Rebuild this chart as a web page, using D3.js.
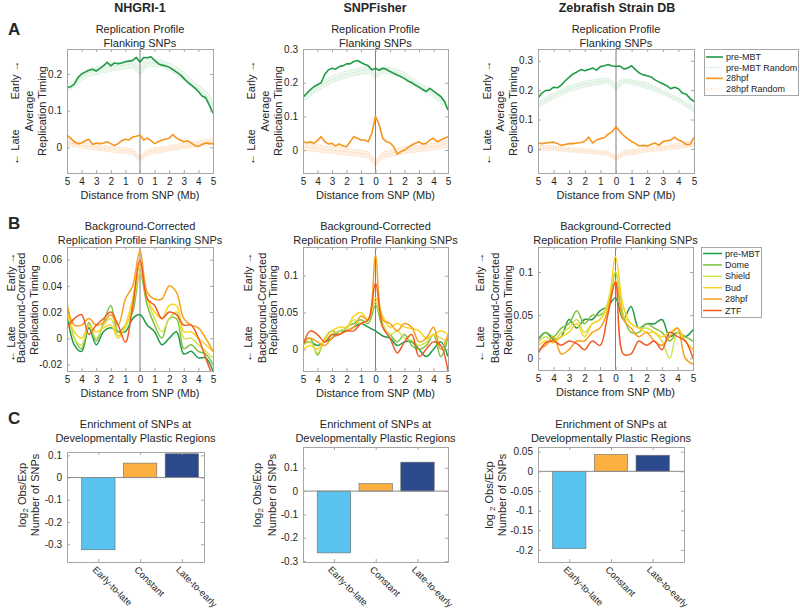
<!DOCTYPE html>
<html><head><meta charset="utf-8">
<script src="https://cdn.jsdelivr.net/npm/d3@7"></script>
<style>
body{margin:0;background:#fff;}
svg text{font-family:"Liberation Sans",Arial,sans-serif;fill:#262626;}
</style></head><body>
<svg id="c" width="800" height="611"></svg>
<script>
// ---------- DATA ----------
const columns = ["NHGRI-1","SNPFisher","Zebrafish Strain DB"];
const xTicks = [-5,-4,-3,-2,-1,0,1,2,3,4,5];
const xFine = [-5,-4.75,-4.5,-4.25,-4,-3.75,-3.5,-3.25,-3,-2.75,-2.5,-2.25,-2,-1.75,-1.5,-1.25,-1,-0.75,-0.5,-0.25,0,0.25,0.5,0.75,1,1.25,1.5,1.75,2,2.25,2.5,2.75,3,3.25,3.5,3.75,4,4.25,4.5,4.75,5];
const xCoarse = [-5,-4.5,-4,-3.5,-3,-2.5,-2,-1.5,-1,-0.5,0,0.5,1,1.5,2,2.5,3,3.5,4,4.5,5];

// Panel A: average replication timing
const a1PreMBT = [0.164,0.165,0.172,0.19,0.2,0.205,0.21,0.213,0.208,0.215,0.222,0.232,0.222,0.23,0.228,0.23,0.233,0.235,0.237,0.245,0.232,0.245,0.244,0.247,0.237,0.228,0.224,0.222,0.218,0.212,0.205,0.198,0.188,0.178,0.17,0.162,0.152,0.14,0.135,0.115,0.093];
const a1H28 = [0.033,0.025,0.015,0.01,0.012,0.018,0.022,0.008,0.012,0.01,0.012,0.015,0.01,0.005,0.01,0.018,0.022,0.02,0.028,0.03,0.033,0.02,0.025,0.018,0.01,0.015,0.02,0.022,0.025,0.035,0.025,0.02,0.015,0.018,0.012,0.005,0.002,0.008,0.012,0.01,0.01];
const a2PreMBT = [0.157,0.168,0.179,0.188,0.194,0.2,0.225,0.238,0.243,0.24,0.248,0.25,0.256,0.256,0.263,0.266,0.26,0.255,0.25,0.238,0.243,0.237,0.243,0.24,0.233,0.228,0.223,0.218,0.212,0.205,0.2,0.193,0.187,0.18,0.174,0.183,0.175,0.167,0.159,0.145,0.119];
const a2H28 = [0.025,0.022,0.025,0.02,0.028,0.04,0.025,0.018,0.02,0.012,0.018,0.012,0.01,0.025,0.04,0.035,0.03,0.03,0.025,0.05,0.1,0.075,0.035,0.025,0.022,0.01,-0.012,-0.005,0.0,0.008,0.015,0.02,0.025,0.018,0.02,0.03,0.035,0.025,0.03,0.035,0.04];
const a3PreMBT = [0.173,0.19,0.199,0.2,0.21,0.208,0.218,0.232,0.244,0.255,0.262,0.27,0.266,0.27,0.275,0.268,0.28,0.283,0.287,0.282,0.281,0.282,0.272,0.275,0.283,0.27,0.258,0.252,0.249,0.245,0.235,0.228,0.222,0.215,0.205,0.21,0.205,0.19,0.186,0.172,0.161];
const a3H28 = [0.02,0.018,0.02,0.022,0.023,0.018,0.012,0.015,0.018,0.018,0.02,0.022,0.026,0.04,0.02,0.03,0.035,0.038,0.05,0.058,0.075,0.06,0.045,0.035,0.025,0.018,0.01,0.012,0.01,0.015,0.02,0.012,0.025,0.028,0.03,0.04,0.03,0.025,0.015,0.015,0.04];

// random-position controls (three representative traces per band)
const a1PreRand1 = [0.150,0.163,0.183,0.193,0.198,0.203,0.208,0.211,0.214,0.217,0.198,0.219,0.221,0.219,0.209,0.198,0.183,0.165,0.150,0.130,0.102];
const a1PreRand2 = [0.160,0.172,0.192,0.203,0.209,0.214,0.219,0.222,0.225,0.228,0.208,0.229,0.231,0.229,0.219,0.209,0.194,0.175,0.160,0.142,0.115];
const a1PreRand3 = [0.170,0.183,0.203,0.214,0.219,0.225,0.229,0.232,0.235,0.238,0.220,0.240,0.240,0.238,0.229,0.219,0.205,0.186,0.170,0.155,0.130];
const a1H28Rand1 = [0.005,0.002,-0.002,-0.005,-0.008,-0.010,-0.013,-0.015,-0.017,-0.020,-0.038,-0.022,-0.017,-0.014,-0.010,-0.007,-0.004,-0.001,0.002,0.006,0.010];
const a1H28Rand2 = [0.013,0.009,0.005,0.002,-0.001,-0.003,-0.005,-0.007,-0.009,-0.012,-0.031,-0.014,-0.009,-0.006,-0.003,0.000,0.003,0.006,0.009,0.013,0.017];
const a1H28Rand3 = [0.022,0.017,0.013,0.010,0.007,0.005,0.003,0.001,-0.001,-0.004,-0.024,-0.006,-0.001,0.002,0.005,0.008,0.011,0.014,0.017,0.021,0.025];
const a2PreRand1 = [0.145,0.160,0.175,0.188,0.200,0.208,0.215,0.220,0.225,0.228,0.213,0.228,0.225,0.220,0.210,0.196,0.180,0.168,0.155,0.140,0.120];
const a2PreRand2 = [0.155,0.170,0.185,0.198,0.210,0.218,0.225,0.230,0.235,0.238,0.223,0.238,0.235,0.230,0.220,0.206,0.190,0.178,0.165,0.150,0.130];
const a2PreRand3 = [0.165,0.180,0.195,0.208,0.220,0.228,0.235,0.240,0.245,0.247,0.235,0.247,0.245,0.240,0.230,0.216,0.200,0.188,0.175,0.160,0.140];
const a2H28Rand1 = [0.000,-0.003,-0.005,-0.008,-0.010,-0.013,-0.015,-0.017,-0.020,-0.024,-0.048,-0.025,-0.020,-0.015,-0.010,-0.007,-0.005,-0.002,0.000,0.004,0.010];
const a2H28Rand2 = [0.012,0.008,0.005,0.002,0.000,-0.003,-0.005,-0.008,-0.010,-0.014,-0.040,-0.015,-0.010,-0.006,-0.001,0.002,0.005,0.008,0.010,0.014,0.020];
const a2H28Rand3 = [0.025,0.020,0.015,0.012,0.010,0.007,0.005,0.002,0.000,-0.004,-0.030,-0.005,0.000,0.004,0.010,0.012,0.015,0.018,0.020,0.024,0.030];
const a3PreRand1 = [0.140,0.155,0.170,0.183,0.195,0.203,0.210,0.215,0.220,0.224,0.200,0.224,0.220,0.213,0.205,0.195,0.185,0.172,0.160,0.143,0.125];
const a3PreRand2 = [0.150,0.165,0.180,0.193,0.205,0.213,0.220,0.225,0.230,0.232,0.212,0.232,0.228,0.222,0.215,0.204,0.193,0.180,0.168,0.152,0.135];
const a3PreRand3 = [0.160,0.175,0.190,0.203,0.215,0.223,0.230,0.235,0.240,0.240,0.225,0.240,0.235,0.230,0.225,0.213,0.200,0.188,0.175,0.160,0.145];
const a3H28Rand1 = [-0.005,-0.006,-0.005,-0.008,-0.010,-0.012,-0.015,-0.017,-0.020,-0.022,-0.040,-0.022,-0.020,-0.015,-0.010,-0.008,-0.005,-0.002,0.000,0.005,0.010];
const a3H28Rand2 = [0.005,0.002,0.002,-0.001,-0.003,-0.005,-0.007,-0.009,-0.012,-0.014,-0.033,-0.014,-0.011,-0.007,-0.003,0.000,0.003,0.006,0.010,0.013,0.020];
const a3H28Rand3 = [0.015,0.012,0.010,0.007,0.005,0.002,0.000,-0.002,-0.005,-0.007,-0.025,-0.006,-0.002,0.002,0.005,0.008,0.010,0.014,0.020,0.022,0.030];

// Panel B: background-corrected, six stages
const stages = ["pre-MBT","Dome","Shield","Bud","28hpf","ZTF"];
const stageColors = ["#1f9a45","#7cc242","#d4e24f","#fcd423","#f7a01c","#f15a24"];
const b1 = [
  [0.02,-0.005,-0.01,0.008,-0.005,0.005,0.008,0.005,0.005,0.015,0.018,0.01,0.005,-0.005,0.0,0.005,-0.012,-0.01,-0.015,-0.015,-0.025],
  [0.028,0.0,-0.008,0.012,-0.002,0.012,0.025,0.005,0.01,0.02,0.05,0.025,0.01,0.0,0.015,0.015,-0.008,-0.005,-0.01,-0.012,-0.02],
  [0.025,0.0,-0.005,0.01,0.0,0.01,0.015,0.002,0.008,0.025,0.05,0.03,0.015,0.005,0.015,0.02,0.0,0.0,-0.005,-0.01,-0.015],
  [0.02,0.005,0.0,0.01,0.005,0.008,0.01,0.0,0.01,0.03,0.055,0.03,0.02,0.015,0.025,0.025,0.005,0.005,0.0,-0.005,-0.01],
  [0.025,0.01,0.01,0.015,0.01,0.012,0.018,0.01,0.03,0.04,0.067,0.035,0.03,0.03,0.04,0.035,0.015,0.01,0.008,0.0,-0.01],
  [0.008,0.015,0.018,0.003,0.01,0.015,0.02,0.01,-0.003,0.025,0.06,0.03,0.025,0.015,0.02,0.018,0.01,0.01,0.0,-0.015,-0.03]
];
const b2 = [
  [0.008,0.01,0.005,0.01,0.015,0.025,0.025,0.03,0.035,0.03,0.025,0.018,0.015,0.005,0.01,0.01,0.0,-0.01,0.0,0.01,-0.01],
  [0.01,0.015,-0.008,0.015,0.025,0.02,0.03,0.035,0.04,0.035,0.06,0.03,0.02,0.01,0.02,0.005,0.0,0.005,0.02,-0.01,0.015],
  [0.005,0.01,-0.005,0.012,0.02,0.025,0.028,0.04,0.035,0.04,0.065,0.035,0.02,0.025,0.015,0.012,0.005,0.01,0.02,0.015,0.01],
  [0.0,0.005,0.0,0.015,0.025,0.03,0.03,0.045,0.05,0.04,0.07,0.045,0.03,0.035,0.03,0.028,0.025,0.015,0.02,0.025,0.02],
  [0.01,0.015,0.01,0.005,0.015,0.02,0.025,0.03,0.045,0.04,0.128,0.04,0.035,0.025,0.035,0.03,0.01,0.015,0.03,0.0,0.02],
  [0.005,0.025,0.02,0.01,0.02,0.02,0.025,0.025,0.035,0.04,0.09,0.03,0.015,-0.005,0.01,0.02,-0.01,0.0,0.01,0.005,-0.03]
];
const b3 = [
  [0.022,0.03,0.022,0.025,0.045,0.035,0.045,0.045,0.055,0.06,0.07,0.045,0.06,0.035,0.04,0.04,0.045,0.025,0.03,0.025,0.033],
  [0.02,0.03,0.025,0.035,0.04,0.055,0.04,0.05,0.05,0.06,0.1,0.05,0.03,0.03,0.04,0.035,0.03,0.02,0.03,0.025,0.02],
  [0.018,0.025,0.02,0.03,0.035,0.045,0.03,0.04,0.045,0.065,0.1,0.05,0.04,0.035,0.035,0.03,0.02,0.0,0.03,0.02,0.01],
  [0.015,0.02,0.018,0.025,0.03,0.04,0.025,0.04,0.045,0.06,0.118,0.06,0.04,0.035,0.03,0.03,0.025,0.03,0.035,0.02,0.01],
  [0.01,0.015,0.025,0.005,0.01,0.02,0.02,0.03,0.035,0.055,0.09,0.045,0.035,0.025,0.03,0.02,0.015,0.025,0.035,0.0,-0.007],
  [0.005,0.018,0.02,0.015,0.02,0.017,0.01,0.02,0.015,0.05,0.088,0.005,0.005,0.02,0.015,0.02,0.01,0.03,0.025,0.02,0.0]
];

// Panel C: enrichment
const cCategories = ["Early-to-late","Constant","Late-to-early"];
const cColors = ["#58c3ee","#fbb040","#2c4a8e"];
const c1Values = [-0.325,0.065,0.107];
const c2Values = [-0.265,0.032,0.124];
const c3Values = [-0.197,0.043,0.041];

// ---------- DRAWING ----------
const svg = d3.select("#c");
const BOX = "#a6a6a6";
let clipId = 0;

function frame(g, x, y, p, xTickVals, xFmt, yTickVals, yFmt) {
  g.append("g").attr("transform",`translate(0,${p.y1})`)
    .call(d3.axisBottom(x).tickValues(xTickVals).tickFormat(xFmt).tickSizeInner(-3).tickSizeOuter(0).tickPadding(5))
    .call(s=>{s.select(".domain").remove();s.selectAll("line").attr("stroke",BOX);
      s.selectAll("text").attr("font-size",10).attr("font-family",null).attr("fill","#262626");});
  g.append("g").attr("transform",`translate(0,${p.y0})`)
    .call(d3.axisTop(x).tickValues(xTickVals).tickFormat("").tickSizeInner(-3).tickSizeOuter(0))
    .call(s=>{s.select(".domain").remove();s.selectAll("line").attr("stroke",BOX);});
  g.append("g").attr("transform",`translate(${p.x0},0)`)
    .call(d3.axisLeft(y).tickValues(yTickVals).tickFormat(yFmt).tickSizeInner(-3).tickSizeOuter(0).tickPadding(5))
    .call(s=>{s.select(".domain").remove();s.selectAll("line").attr("stroke",BOX);
      s.selectAll("text").attr("font-size",10).attr("font-family",null).attr("fill","#262626");});
  g.append("g").attr("transform",`translate(${p.x1},0)`)
    .call(d3.axisRight(y).tickValues(yTickVals).tickFormat("").tickSizeInner(-3).tickSizeOuter(0))
    .call(s=>{s.select(".domain").remove();s.selectAll("line").attr("stroke",BOX);});
  g.append("rect").attr("x",p.x0+0.5).attr("y",p.y0+0.5).attr("width",p.x1-p.x0).attr("height",p.y1-p.y0)
    .attr("fill","none").attr("stroke",BOX).attr("stroke-width",1);
}

function titles(g, p, lines, y1) {
  const cx = (p.x0+p.x1)/2;
  lines.forEach((t,i)=>g.append("text").attr("x",cx).attr("y",y1+i*14).attr("text-anchor","middle").attr("font-size",11).text(t));
}

function vlabel(g, x, y, txt, size) {
  g.append("text").attr("transform",`translate(${x},${y}) rotate(-90)`).attr("text-anchor","middle")
    .attr("dominant-baseline","central").attr("font-size",size||11).text(txt);
}

const fmtNum = d => String(+d.toFixed(3));

function linePanel(p) {
  const g = svg.append("g");
  const x = d3.scaleLinear().domain([-5,5]).range([p.x0,p.x1]);
  const y = d3.scaleLinear().domain(p.ydom).range([p.y1,p.y0]);
  const id = "clip"+(clipId++);
  g.append("clipPath").attr("id",id).append("rect").attr("x",p.x0).attr("y",p.y0).attr("width",p.x1-p.x0).attr("height",p.y1-p.y0);
  const plot = g.append("g").attr("clip-path",`url(#${id})`);
  (p.bands||[]).forEach(b=>{
    const area = d3.area().x((d,i)=>x(xCoarse[i])).y0((d,i)=>y(b.traces[0][i])).y1((d,i)=>y(b.traces[2][i])).curve(d3.curveLinear);
    plot.append("path").datum(b.traces[0]).attr("d",area).attr("fill",b.fill).attr("opacity",0.55);
    b.traces.forEach(t=>{
      plot.append("path").datum(t).attr("d",d3.line().x((d,i)=>x(xCoarse[i])).y(d=>y(d)))
        .attr("fill","none").attr("stroke",b.stroke).attr("stroke-width",0.8).attr("stroke-dasharray","1,1.5").attr("opacity",0.8);
    });
  });
  plot.append("line").attr("x1",x(0)).attr("x2",x(0)).attr("y1",p.y0).attr("y2",p.y1).attr("stroke","#7f7f7f").attr("stroke-width",1);
  p.series.forEach(s=>{
    const xs = s.xs;
    plot.append("path").datum(s.values)
      .attr("d",d3.line().x((d,i)=>x(xs[i])).y(d=>y(d)).curve(s.curve||d3.curveLinear))
      .attr("fill","none").attr("stroke",s.color).attr("stroke-width",s.width||1.5).attr("stroke-linejoin","round");
  });
  frame(g,x,y,p,xTicks,d=>Math.abs(d),p.yticks,fmtNum);
  g.append("text").attr("x",(p.x0+p.x1)/2).attr("y",p.y1+26).attr("text-anchor","middle").attr("font-size",11).text("Distance from SNP (Mb)");
  return g;
}

function barPanel(p) {
  const g = svg.append("g");
  const x = d3.scaleLinear().domain(p.xdom).range([p.x0,p.x1]);
  const y = d3.scaleLinear().domain(p.ydom).range([p.y1,p.y0]);
  const pos = [1,2,3];
  g.selectAll("rect.bar").data(p.values).join("rect").attr("class","bar")
    .attr("x",(d,i)=>x(pos[i]-0.4)).attr("width",(d,i)=>x(pos[i]+0.4)-x(pos[i]-0.4))
    .attr("y",d=>y(Math.max(0,d))).attr("height",d=>Math.abs(y(d)-y(0)))
    .attr("fill",(d,i)=>cColors[i]).attr("stroke","#6d6d6d").attr("stroke-width",0.6);
  g.append("line").attr("x1",p.x0).attr("x2",p.x1).attr("y1",y(0)).attr("y2",y(0)).attr("stroke","#8c8c8c").attr("stroke-width",1);
  frame(g,x,y,p,pos,()=>"",p.yticks,fmtNum);
  cCategories.forEach((c,i)=>{
    g.append("text").attr("transform",`translate(${x(pos[i])-4},${p.y1+6}) rotate(45)`)
      .attr("font-size",9.5).attr("dy","0.35em").text(c);
  });
  return g;
}

// Column headers & panel letters
[140,375,617].forEach((cx,i)=>svg.append("text").attr("x",cx).attr("y",12).attr("text-anchor","middle")
  .attr("font-size",12.5).attr("font-weight","bold").text(columns[i]));
[["A",35],["B",229],["C",424]].forEach(([l,yy])=>svg.append("text").attr("x",8).attr("y",yy)
  .attr("font-size",17).attr("font-weight","bold").text(l));

const GREEN = "#1f9a45", ORANGE = "#f7941d";
const gBand = {fill:"#dcf0e0",stroke:"#9fd6ab"}, oBand = {fill:"#fde3cc",stroke:"#f9bf8a"};

// ---- Row A ----
const aPanels = [
  {x0:67,x1:213,y0:49,y1:173,ydom:[-0.07,0.268],yticks:[0,0.1,0.2],pre:a1PreMBT,h28:a1H28,
   gr:[a1PreRand1,a1PreRand2,a1PreRand3],or:[a1H28Rand1,a1H28Rand2,a1H28Rand3],lab:[15,29,42]},
  {x0:303,x1:448,y0:49,y1:173,ydom:[-0.068,0.3],yticks:[0,0.1,0.2,0.3],pre:a2PreMBT,h28:a2H28,
   gr:[a2PreRand1,a2PreRand2,a2PreRand3],or:[a2H28Rand1,a2H28Rand2,a2H28Rand3],lab:[251,265,278]},
  {x0:538,x1:694,y0:49,y1:173,ydom:[-0.082,0.34],yticks:[0,0.1,0.2,0.3],pre:a3PreMBT,h28:a3H28,
   gr:[a3PreRand1,a3PreRand2,a3PreRand3],or:[a3H28Rand1,a3H28Rand2,a3H28Rand3],lab:[487,500,513]}
];
aPanels.forEach(p=>{
  p.bands=[Object.assign({traces:p.gr},gBand),Object.assign({traces:p.or},oBand)];
  p.series=[{xs:xFine,values:p.pre,color:GREEN,width:1.6},{xs:xFine,values:p.h28,color:ORANGE,width:1.6}];
  const g = linePanel(p);
  titles(g,p,["Replication Profile","Flanking SNPs"],33);
  vlabel(g,p.lab[0],80,"Early \u2192");
  vlabel(g,p.lab[0],147,"\u2190 Late");
  vlabel(g,p.lab[1],111,"Average");
  vlabel(g,p.lab[2],111,"Replication Timing");
});
// Legend A
(function(){
  const g = svg.append("g");
  g.append("rect").attr("x",704.5).attr("y",49.5).attr("width",94).attr("height",46).attr("fill","#fff").attr("stroke",BOX);
  const items = [["pre-MBT",GREEN,false],["pre-MBT Random",gBand.stroke,true],["28hpf",ORANGE,false],["28hpf Random",oBand.stroke,true]];
  items.forEach((it,i)=>{
    const yy = 57+i*10.7;
    g.append("line").attr("x1",706).attr("x2",723).attr("y1",yy).attr("y2",yy).attr("stroke",it[1])
      .attr("stroke-width",it[2]?0.8:1.6).attr("stroke-dasharray",it[2]?"1,1.5":null);
    g.append("text").attr("x",726).attr("y",yy).attr("dominant-baseline","central").attr("font-size",9).text(it[0]);
  });
})();

// ---- Row B ----
const bPanels = [
  {x0:67,x1:213,y0:247,y1:371,ydom:[-0.025,0.0697],yticks:[-0.02,0,0.02,0.04,0.06],data:b1,lab:[11,21,34]},
  {x0:303,x1:448,y0:247,y1:371,ydom:[-0.0296,0.139],yticks:[0,0.05,0.1],data:b2,lab:[248,262,273]},
  {x0:538,x1:693,y0:247,y1:370,ydom:[-0.0136,0.129],yticks:[0,0.05,0.1],data:b3,lab:[480,495,508]}
];
bPanels.forEach(p=>{
  p.series = p.data.map((v,i)=>({xs:xCoarse,values:v,color:stageColors[i],width:1.5,curve:d3.curveCatmullRom.alpha(0.5)}));
  const g = linePanel(p);
  titles(g,p,["Background-Corrected","Replication Profile Flanking SNPs"],230);
  vlabel(g,p.lab[0],272,"Early \u2192");
  vlabel(g,p.lab[0],344,"\u2190 Late");
  vlabel(g,p.lab[1],308,"Background-Corrected");
  vlabel(g,p.lab[2],310,"Replication Timing");
});
// Legend B
(function(){
  const g = svg.append("g");
  g.append("rect").attr("x",701.5).attr("y",247.5).attr("width",60).attr("height",70).attr("fill","#fff").attr("stroke",BOX);
  stages.forEach((s,i)=>{
    const yy = 253.5+i*11.4;
    g.append("line").attr("x1",703).attr("x2",722).attr("y1",yy).attr("y2",yy).attr("stroke",stageColors[i]).attr("stroke-width",1.5);
    g.append("text").attr("x",725).attr("y",yy).attr("dominant-baseline","central").attr("font-size",9).text(s);
  });
})();

// ---- Row C ----
const cPanels = [
  {x0:67,x1:204,y0:452,y1:562,xdom:[0.25,3.53],ydom:[-0.38,0.115],yticks:[-0.3,-0.2,-0.1,0,0.1],values:c1Values,lab:[22,35],sp:""},
  {x0:303,x1:448,y0:447,y1:562,xdom:[0.26,3.73],ydom:[-0.304,0.189],yticks:[-0.3,-0.2,-0.1,0,0.1],values:c2Values,lab:[257,272],sp:""},
  {x0:538,x1:684,y0:447,y1:562,xdom:[0.25,3.75],ydom:[-0.231,0.062],yticks:[-0.2,-0.15,-0.1,-0.05,0,0.05],values:c3Values,lab:[489,502],sp:" "}
];
cPanels.forEach(p=>{
  const g = barPanel(p);
  titles(g,p,["Enrichment of SNPs at","Developmentally Plastic Regions"],428);
  const t = g.append("text").attr("transform",`translate(${p.lab[0]},495) rotate(-90)`).attr("text-anchor","middle")
    .attr("dominant-baseline","central").attr("font-size",11);
  t.append("tspan").text("log"+p.sp);
  t.append("tspan").attr("font-size",8).attr("dy",3).text("2");
  t.append("tspan").attr("dy",-3).text(" Obs/Exp");
  vlabel(g,p.lab[1],495,"Number of SNPs");
});
</script>
</body></html>
